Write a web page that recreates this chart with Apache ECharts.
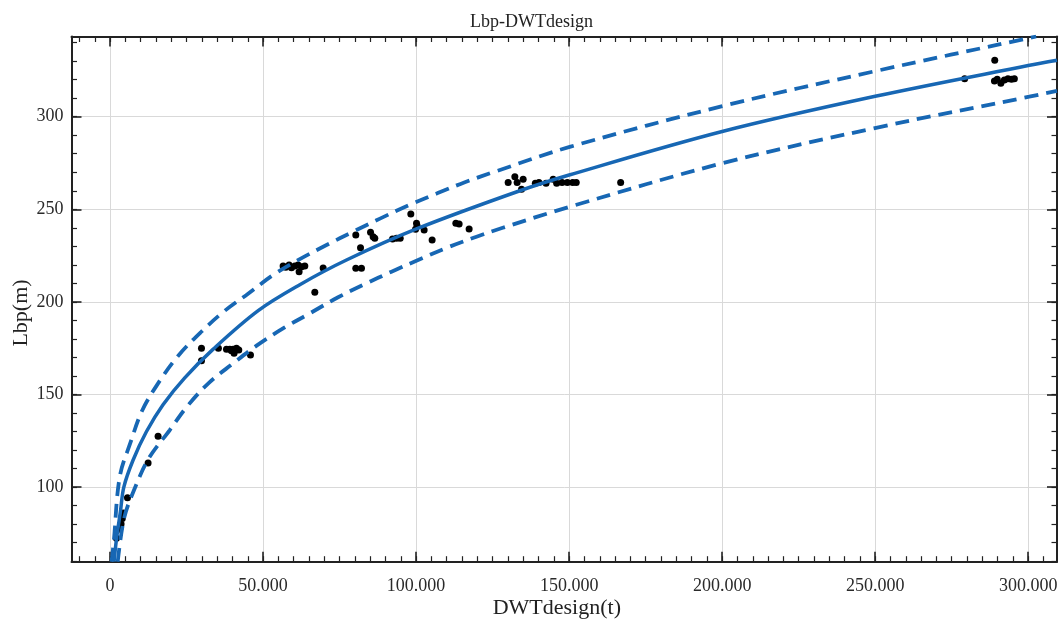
<!DOCTYPE html>
<html><head><meta charset="utf-8">
<script src="https://cdn.jsdelivr.net/npm/echarts@6/dist/echarts.min.js"></script>
<style>html,body{margin:0;padding:0;background:#fff}#c{width:1063px;height:626px}</style>
</head><body><div id="c"></div>
<script>
// ---- tick values ----
const xTicks = [0, 50000, 100000, 150000, 200000, 250000, 300000];
const xMinorTicks = [-10000,-5000,0,5000,10000,15000,20000,25000,30000,35000,40000,45000,50000,55000,60000,65000,70000,75000,80000,85000,90000,95000,100000,105000,110000,115000,120000,125000,130000,135000,140000,145000,150000,155000,160000,165000,170000,175000,180000,185000,190000,195000,200000,205000,210000,215000,220000,225000,230000,235000,240000,245000,250000,255000,260000,265000,270000,275000,280000,285000,290000,295000,300000,305000];
const yTicks = [100, 150, 200, 250, 300];
const yMinorTicks = [60,70,80,90,100,110,120,130,140,150,160,170,180,190,200,210,220,230,240,250,260,270,280,290,300,310,320,330,340];

// ---- observed ships (DWTdesign t, Lbp m) ----
const shipDWT = [2090,2090,3300,3600,4000,4300,5690,12420,15690,
  29870,29870,35400,38040,39120,40200,41310,42060,40520,39670,45880,
  56540,57420,58500,59280,60360,61440,62550,63630,61770,69620,66900,
  80290,81830,80290,82150,85100,85950,86500,92290,93600,94800,
  98270,100130,100330,99810,102620,105230,112980,114050,117320,
  130070,132260,133010,134970,134450,138950,140130,142450,144770,145920,147680,149420,151150,152320,166830,
  279220,289060,288960,289870,291050,292200,293370,294520,295470];
const shipLbp = [72.3,76.4,78,80,83,86,94.2,113,127.5,
  174.9,168.2,174.9,174.4,174.4,174.4,174.9,174,172.2,173.6,171.3,
  219.4,218.7,219.9,218.4,219.4,219.9,219,219.4,216.3,218.3,205.2,
  236.1,229.2,218.1,218.1,237.6,235.2,234.3,234,234.4,234.4,
  247.4,242.4,241,239.2,238.8,233.4,242.4,242,239.3,
  264.4,267.6,264.4,266.2,260.8,264,264.4,264,266.2,264,264.4,264.4,264.4,264.4,264.4,
  320.5,330.5,319.3,320.2,318,319.8,320.5,320.2,320.5];

// ---- fitted curve and bounds ----
const fitDWT = [1300,2100,3400,4500,7500,11900,17300,24400,33700,48400,62000,77250,100300,133900,150000,200000,250000,300000,309400];
const fitLbp = [59.7,72,87,100,114.5,130,144.5,159,174.5,195.3,209.3,222.6,239.5,260,268.5,292,311,327.6,330.5];
const upperDWT = [500,1210,3170,6770,10460,15690,22220,29640,37100,45100,53270,62000,70720,79410,88370,97710,106860,115920,125170,150460,200360,250300,299200,302600];
const upperLbp = [59.7,70.5,105.6,124.5,141.2,156,170.8,183.6,194.7,204.4,214.5,223.1,230.7,237.9,245.1,252.3,258.6,264.6,270,283.8,305.8,324.7,342.1,343.3];
const lowerDWT = [2500,4580,7840,12650,19510,25290,32300,40000,48000,56650,65260,74510,83240,91960,101210,110460,119740,128300,150460,200360,250300,300330,309400];
const lowerLbp = [59.7,83.1,98.4,115.5,130.8,143.8,156.3,166.5,176.5,185.8,193.8,202.5,209.6,216.3,223,229.5,235.2,240,251.5,275,294,310.8,313.9];

const X_MIN = -12600, X_MAX = 309400, Y_MIN = 59.7, Y_MAX = 343.3;
const BLUE = '#1767b4';
const AX = '#222';
const FONT = '"Liberation Serif", "Times New Roman", serif';

const zip = (a, b) => a.map((v, i) => [v, b[i]]);
const fmtX = v => String(Math.round(v)).replace(/\B(?=(\d{3})+(?!\d))/g, '.');

function xAx(pos, major, labels) {
  return {
    type: 'value', position: pos, min: X_MIN, max: X_MAX,
    axisLine: { show: major, onZero: false, lineStyle: { color: AX, width: 2 } },
    axisTick: { show: true, inside: true, length: major ? 10 : 5.5,
      customValues: major ? xTicks : xMinorTicks,
      lineStyle: { color: AX, width: major ? 1.6 : 1.2 } },
    axisLabel: { show: labels, customValues: xTicks, formatter: fmtX, margin: 16,
      fontFamily: FONT, fontSize: 18, color: '#2a2a2a' },
    splitLine: { show: major && labels, lineStyle: { color: '#d9d9d9', width: 1 } },
    minorTick: { show: false }
  };
}
function yAx(pos, major, labels) {
  return {
    type: 'value', position: pos, min: Y_MIN, max: Y_MAX,
    axisLine: { show: major, onZero: false, lineStyle: { color: AX, width: 2 } },
    axisTick: { show: true, inside: true, length: major ? 10 : 5.5,
      customValues: major ? yTicks : yMinorTicks,
      lineStyle: { color: AX, width: major ? 1.6 : 1.2 } },
    axisLabel: { show: labels, customValues: yTicks, margin: 8,
      fontFamily: FONT, fontSize: 18, color: '#2a2a2a' },
    splitLine: { show: major && labels, lineStyle: { color: '#d9d9d9', width: 1 } },
    minorTick: { show: false }
  };
}

const chart = echarts.init(document.getElementById('c'), null, { renderer: 'canvas' });
chart.setOption({
  animation: false,
  backgroundColor: '#fff',
  title: { text: 'Lbp-DWTdesign', left: 'center', top: 8,
    textStyle: { fontFamily: FONT, fontSize: 18, fontWeight: 'normal', color: '#222' } },
  grid: { left: 71.5, right: 6, top: 36.5, bottom: 64.3, containLabel: false, outerBoundsMode: 'none' },
  xAxis: [xAx('bottom', true, true), xAx('bottom', false, false), xAx('top', true, false), xAx('top', false, false)],
  yAxis: [yAx('left', true, true), yAx('left', false, false), yAx('right', true, false), yAx('right', false, false)],
  graphic: [
    { type: 'text', x: 621, y: 608, style: { text: 'DWTdesign(t)', fontFamily: FONT, fontSize: 22, fill: '#222', align: 'right', verticalAlign: 'middle' } },
    { type: 'text', x: 21, y: 313, rotation: Math.PI / 2, style: { text: 'Lbp(m)', fontFamily: FONT, fontSize: 22, fill: '#222', align: 'center', verticalAlign: 'middle' } }
  ],
  series: [
    { type: 'scatter', name: 'ships', z: 1, data: zip(shipDWT, shipLbp), symbol: 'circle', symbolSize: 7,
      itemStyle: { color: '#000', opacity: 1 }, xAxisIndex: 0, yAxisIndex: 0 },
    { type: 'line', name: 'fit', z: 3, data: zip(fitDWT, fitLbp), smooth: 0.35, showSymbol: false,
      lineStyle: { color: BLUE, width: 3.5 }, xAxisIndex: 0, yAxisIndex: 0 },
    { type: 'line', name: 'upper', z: 3, data: zip(upperDWT, upperLbp), smooth: 0.35, showSymbol: false,
      lineStyle: { color: BLUE, width: 3.8, type: [14, 8] }, xAxisIndex: 0, yAxisIndex: 0 },
    { type: 'line', name: 'lower', z: 3, data: zip(lowerDWT, lowerLbp), smooth: 0.35, showSymbol: false,
      lineStyle: { color: BLUE, width: 3.8, type: [14, 8] }, xAxisIndex: 0, yAxisIndex: 0 }
  ]
});
</script>
</body></html>
